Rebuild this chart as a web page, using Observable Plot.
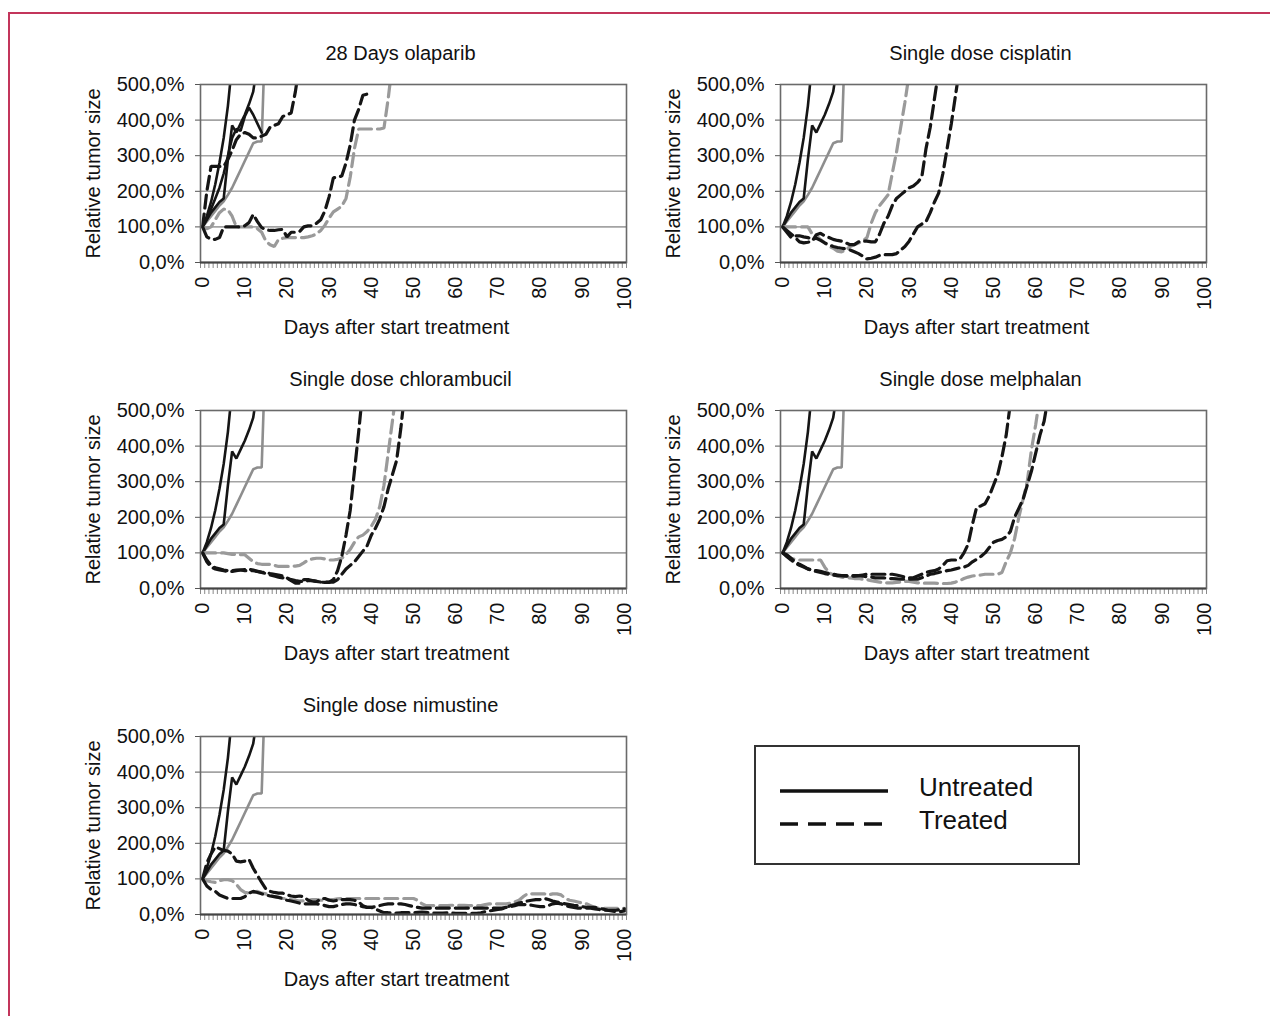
<!DOCTYPE html>
<html><head><meta charset="utf-8">
<script src="https://cdn.jsdelivr.net/npm/d3@7"></script>
<script src="https://cdn.jsdelivr.net/npm/@observablehq/plot@0.6"></script>
<style>
body{margin:0;background:#fff;}
#fig{position:relative;width:1270px;height:1016px;overflow:hidden;font-family:"Liberation Sans",Arial,sans-serif;background:#fff;}
.panel{position:absolute;}
.panel svg{overflow:visible;}
#border{position:absolute;left:8px;top:12px;width:1300px;height:1100px;border-left:2px solid #c3355b;border-top:2px solid #c3355b;}
#legend{position:absolute;left:754px;top:745px;width:322px;height:116px;border:2px solid #333;background:#fff;}
</style></head><body><div id="fig"><div id="border"></div></div>
<script>
// ---- tick labels / categories ----
const titles = ["28 Days olaparib","Single dose cisplatin","Single dose chlorambucil","Single dose melphalan","Single dose nimustine"];
const yTicks = [0,100,200,300,400,500];
const xTickLabels = [0,10,20,30,40,50,60,70,80,90,100];
const xLabel = "Days after start treatment";
const yLabel = "Relative tumor size";
const legendLabels = ["Untreated","Treated"];

// ---- untreated control tumours (relative size %, one value per day from day 0) ----
const untreatedBlack1 = [100,130,170,220,280,350,440,560];
const untreatedBlack2 = [100,120,140,155,170,180,290,385,365,390,415,445,480,560];
const untreatedGray   = [100,115,130,145,160,172,190,210,235,260,285,310,335,340,340,700];
const olaparibUntreatedBlack3 = [100,125,150,180,210,250,300,350,375,370,410,435,415,390,365];

// ---- treated tumours ----
const olaparibTreatedBlack1 = [100,200,270,270,270,270,290,315,345,360,365,360,350,350,355,360,380,385,390,410,415,420,480,560];
const olaparibTreatedBlack2 = [100,72,65,65,70,100,100,100,100,100,103,112,135,115,98,92,90,90,92,93,72,85,85,87,100,103,103,110,120,145,185,238,240,243,280,330,400,430,470,473,475];
const olaparibTreatedGray   = [100,95,100,120,140,150,148,130,100,100,100,100,100,95,85,60,50,45,65,68,70,70,70,70,70,72,75,80,90,105,125,142,150,158,180,240,320,375,375,375,375,375,375,378,460,560];

const cisplatinTreatedGray   = [100,100,100,100,100,100,100,80,75,65,55,45,40,32,30,35,45,50,55,60,70,110,140,160,175,190,250,310,380,450,530];
const cisplatinTreatedBlack1 = [100,90,80,70,58,55,57,60,78,82,75,70,65,62,60,55,50,50,58,60,60,58,58,80,110,130,160,180,190,200,210,215,225,240,320,380,460,540];
const cisplatinTreatedBlack2 = [100,85,70,75,75,72,70,65,68,62,55,50,45,42,40,38,35,30,25,18,10,12,15,20,22,22,22,25,35,45,60,80,100,108,115,140,170,195,250,320,390,470,550];

const chlorambucilTreatedGray   = [100,100,100,100,100,100,98,96,96,95,95,85,75,70,68,68,68,65,62,62,62,62,63,65,72,80,83,85,85,83,80,80,82,85,95,110,130,145,150,160,175,195,230,290,380,470,560];
const chlorambucilTreatedBlack1 = [100,75,60,55,52,50,48,48,50,52,53,54,52,48,46,45,42,40,38,35,30,22,15,15,25,25,22,20,18,17,17,25,50,90,150,220,330,440,560];
const chlorambucilTreatedBlack2 = [100,80,65,58,55,52,50,50,52,52,50,50,50,48,45,42,38,35,32,30,28,25,22,20,20,22,22,20,18,18,18,18,25,40,55,65,75,90,105,120,150,170,195,230,280,320,360,450,560];

const melphalanTreatedBlack1 = [100,95,85,75,68,62,55,52,50,48,45,42,40,38,36,35,35,35,36,38,40,40,40,40,40,40,40,38,35,32,30,30,35,40,45,48,50,55,65,78,80,80,82,100,125,180,228,232,238,260,290,320,370,430,520];
const melphalanTreatedBlack2 = [100,90,80,72,65,60,55,50,48,45,42,40,38,36,36,36,36,36,36,35,33,32,30,30,30,28,28,27,26,26,26,26,26,30,35,40,42,45,48,50,52,55,58,60,65,75,82,90,100,115,130,135,138,145,160,200,225,250,290,330,380,430,470,540];
const melphalanTreatedGray   = [100,90,85,82,80,80,80,80,80,80,60,45,38,35,32,30,30,28,28,26,25,22,20,18,16,16,16,17,18,20,20,18,16,15,15,15,15,14,14,14,15,18,22,28,32,35,37,38,40,40,40,40,45,75,100,140,200,250,300,390,460,540];

const nimustineTreatedBlack1 = [100,145,170,190,185,180,178,170,150,148,150,155,130,110,90,72,65,62,60,60,55,52,50,52,50,40,35,35,45,45,40,38,40,42,42,42,40,35,25,20,20,15,10,5,5,4,4,5,5,5,5,6,7,6,5,4,4,4,5,4,3,3,3,3,3,3,5,8,10,12,14,16,20,25,28,32,35,38,40,42,42,45,42,38,35,32,30,28,26,25,22,20,20,20,18,15,12,10,8,8,10];
const nimustineTreatedBlack2 = [100,80,70,65,55,50,45,45,45,45,50,60,65,62,58,55,52,50,48,45,40,38,35,32,30,30,30,30,28,25,22,22,25,28,30,30,28,25,22,20,20,22,25,28,30,30,30,30,28,25,22,20,18,18,18,18,18,18,18,18,18,18,18,18,18,18,18,18,18,18,18,18,20,22,25,28,28,28,26,24,22,22,25,30,32,30,25,22,20,18,18,18,18,16,14,12,12,12,12,14,16];
const nimustineTreatedGray   = [100,95,92,90,95,98,98,95,85,70,62,60,62,65,60,58,55,50,48,45,45,42,40,38,38,40,42,42,40,40,42,42,44,45,45,45,45,45,45,45,45,45,45,45,45,45,45,45,45,45,45,40,30,25,25,25,25,25,25,26,26,26,26,25,25,25,25,28,30,30,30,30,30,32,35,40,50,58,58,58,58,58,55,58,58,55,45,40,38,35,32,30,25,20,17,17,17,17,17,17,17];

// ---- styles ----
const BLACK = "#151515", GRAY = "#8e8e8e", GRAYD = "#9a9a9a";
const FS = 20;
const solidB = {stroke: BLACK, strokeWidth: 2.6};
const solidG = {stroke: GRAY, strokeWidth: 2.6};
const dashB = {stroke: BLACK, strokeWidth: 3.2, strokeDasharray: "13,6"};
const dashG = {stroke: GRAYD, strokeWidth: 3.2, strokeDasharray: "13,6"};

const controls = [[untreatedGray, solidG],[untreatedBlack1, solidB],[untreatedBlack2, solidB]];

const panels = [
  {title: titles[0], left: 0, top: 24, series: [...controls, [olaparibUntreatedBlack3, solidB], [olaparibTreatedGray, dashG], [olaparibTreatedBlack1, dashB], [olaparibTreatedBlack2, dashB]]},
  {title: titles[1], left: 580, top: 24, series: [...controls, [cisplatinTreatedGray, dashG], [cisplatinTreatedBlack1, dashB], [cisplatinTreatedBlack2, dashB]]},
  {title: titles[2], left: 0, top: 350, series: [...controls, [chlorambucilTreatedGray, dashG], [chlorambucilTreatedBlack1, dashB], [chlorambucilTreatedBlack2, dashB]]},
  {title: titles[3], left: 580, top: 350, series: [...controls, [melphalanTreatedGray, dashG], [melphalanTreatedBlack1, dashB], [melphalanTreatedBlack2, dashB]]},
  {title: titles[4], left: 0, top: 676, series: [...controls, [nimustineTreatedGray, dashG], [nimustineTreatedBlack2, dashB], [nimustineTreatedBlack1, dashB]]}
];

const fmtPct = d => d.toFixed(1).replace(".", ",") + "%";
const toPts = arr => arr.map((v, i) => ({day: i, value: v}));
const minorTicks = d3.range(-0.5, 101, 1);

const fig = document.getElementById("fig");
for (const p of panels) {
  const lines = p.series.map(([vals, st]) => Plot.line(toPts(vals), {x: "day", y: "value", clip: true, strokeLinejoin: "miter", ...st}));
  const chart = Plot.plot({
    width: 646, height: 328,
    marginLeft: 200, marginRight: 20, marginTop: 60, marginBottom: 90,
    x: {domain: [-0.5, 100.5], axis: null},
    y: {domain: [0, 500], axis: null},
    style: {fontFamily: "'Liberation Sans', Arial, sans-serif", fontSize: FS + "px", color: "#111", background: "transparent", overflow: "visible"},
    marks: [
      Plot.ruleY([100, 200, 300, 400], {stroke: "#a3a3a3", strokeWidth: 1.6}),
      Plot.axisY({ticks: yTicks, tickSize: 5, tickPadding: 11, tickFormat: fmtPct, label: null, stroke: "#555", fontSize: FS}),
      Plot.axisX({ticks: minorTicks, tickSize: 6, tickFormat: () => "", label: null, stroke: "#8a8a8a"}),
      Plot.text(xTickLabels, {x: d => d, frameAnchor: "bottom", dy: 14, rotate: -90, textAnchor: "end", lineAnchor: "middle", text: d => String(d), fontSize: FS}),
      ...lines,
      Plot.frame({stroke: "#6a6a6a", strokeWidth: 1.6}),
      Plot.ruleY([0], {stroke: "#444", strokeWidth: 2}),
      Plot.text([p.title], {frameAnchor: "top", dy: -31, dx: -13, lineAnchor: "middle", textAnchor: "middle", fontSize: FS}),
      Plot.text([xLabel], {frameAnchor: "bottom", dy: 65, dx: -17, lineAnchor: "middle", textAnchor: "middle", fontSize: FS}),
      Plot.text([yLabel], {frameAnchor: "left", dx: -107, rotate: -90, lineAnchor: "middle", textAnchor: "middle", fontSize: FS})
    ]
  });
  const div = document.createElement("div");
  div.className = "panel";
  div.style.left = p.left + "px";
  div.style.top = p.top + "px";
  div.appendChild(chart);
  fig.appendChild(div);
}

// ---- legend ----
const leg = document.createElement("div");
leg.id = "legend";
leg.innerHTML = `<svg width="322" height="116" style="font-family:'Liberation Sans',Arial,sans-serif">
  <line x1="24" x2="132" y1="44" y2="44" stroke="#111" stroke-width="3.5"/>
  <line x1="24" x2="132" y1="77" y2="77" stroke="#111" stroke-width="3.5" stroke-dasharray="18,10"/>
  <text x="163" y="42" font-size="26" fill="#111" dominant-baseline="middle">${legendLabels[0]}</text>
  <text x="163" y="75" font-size="26" fill="#111" dominant-baseline="middle">${legendLabels[1]}</text>
</svg>`;
fig.appendChild(leg);
</script></body></html>
